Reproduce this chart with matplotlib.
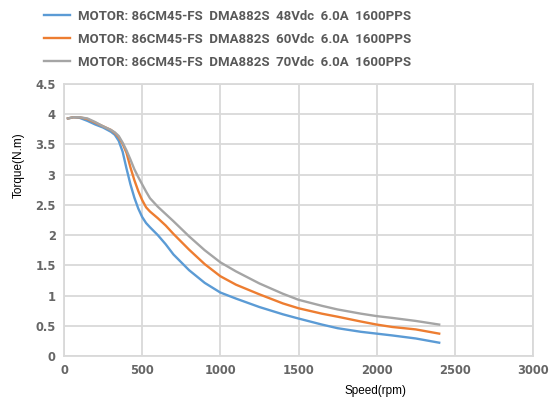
import matplotlib
matplotlib.use("Agg")
import matplotlib.pyplot as plt

# ---- data ----
speed = [25, 60, 100, 150, 200, 250, 300, 325, 350, 375, 400, 425, 450, 475,
         500, 525, 550, 600, 650, 700, 800, 900, 1000, 1100, 1250, 1400, 1500,
         1650, 1750, 1900, 2000, 2100, 2250, 2400]

torque_48v = [3.93, 3.95, 3.94, 3.89, 3.83, 3.78, 3.71, 3.66, 3.56, 3.38, 3.10,
              2.84, 2.62, 2.44, 2.30, 2.20, 2.13, 2.00, 1.85, 1.68, 1.42, 1.21,
              1.05, 0.95, 0.81, 0.69, 0.62, 0.52, 0.46, 0.40, 0.37, 0.34, 0.29,
              0.22]
torque_60v = [3.93, 3.95, 3.95, 3.92, 3.86, 3.80, 3.74, 3.69, 3.62, 3.51, 3.36,
              3.12, 2.91, 2.73, 2.58, 2.46, 2.39, 2.28, 2.16, 2.02, 1.76, 1.52,
              1.32, 1.18, 1.02, 0.87, 0.79, 0.70, 0.65, 0.57, 0.52, 0.48, 0.44,
              0.37]
torque_70v = [3.93, 3.95, 3.95, 3.93, 3.87, 3.80, 3.74, 3.70, 3.64, 3.53, 3.40,
              3.25, 3.09, 2.96, 2.84, 2.72, 2.61, 2.47, 2.35, 2.23, 1.98, 1.75,
              1.55, 1.40, 1.20, 1.03, 0.93, 0.83, 0.77, 0.70, 0.66, 0.63, 0.58,
              0.52]

labels = [
    "MOTOR: 86CM45-FS  DMA882S  48Vdc  6.0A  1600PPS",
    "MOTOR: 86CM45-FS  DMA882S  60Vdc  6.0A  1600PPS",
    "MOTOR: 86CM45-FS  DMA882S  70Vdc  6.0A  1600PPS",
]
colors = ["#5B9BD5", "#ED7D31", "#A5A5A5"]

x_ticks = [0, 500, 1000, 1500, 2000, 2500, 3000]
y_ticks = [0, 0.5, 1, 1.5, 2, 2.5, 3, 3.5, 4, 4.5]

# ---- plot ----
W, H = 558, 398
fig = plt.figure(figsize=(W / 100, H / 100), dpi=100)
ax = fig.add_axes([64 / W, 1 - 356 / H, (533 - 64) / W, (356 - 84) / H])

for t, lab, c in zip([torque_48v, torque_60v, torque_70v], labels, colors):
    ax.plot(speed, t, color=c, lw=1.7, label=lab, zorder=3,
            solid_joinstyle="round")

ax.set_xlim(0, 3000)
ax.set_ylim(0, 4.5)
ax.set_xticks(x_ticks)
ax.set_yticks(y_ticks)
ax.set_yticklabels([f"{v:g}" for v in y_ticks])

ax.grid(True, color="#D9D9D9", lw=1.3, zorder=0)
for s in ax.spines.values():
    s.set_color("#D9D9D9")
    s.set_linewidth(1.3)
ax.tick_params(length=0, pad=6, labelsize=8.3, labelcolor="#666666")
for lbl in ax.get_xticklabels() + ax.get_yticklabels():
    lbl.set_fontweight("bold")

ax.set_xlabel("Speed(rpm)", fontsize=8.5, family="Liberation Sans")
ax.set_ylabel("Torque(N.m)", fontsize=8.5, family="Liberation Sans")
ax.xaxis.set_label_coords(0.664, -0.105)
ax.yaxis.set_label_coords(-0.083, 0.70)

fig.legend(loc="upper left", bbox_to_anchor=(44 / W, 1 - 10 / H),
           frameon=False, borderpad=0, borderaxespad=0,
           handlelength=2.0, handletextpad=0.6, labelspacing=0.75,
           labelcolor="#595959",
           prop={"family": "Roboto", "weight": "bold", "size": 9.5})

fig.savefig("out.png", dpi=100)
